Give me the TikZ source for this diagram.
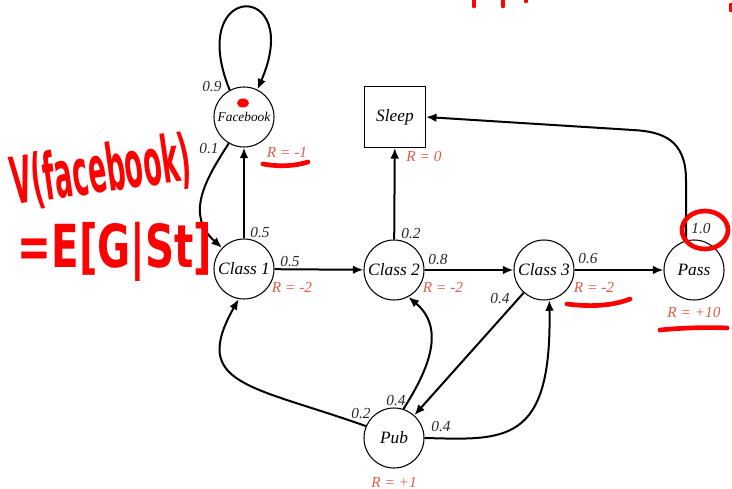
\documentclass[tikz,border=0pt]{standalone}
\usepackage{amsmath,amssymb}
\usepackage{fontspec}
\setmainfont{Liberation Serif}
\newfontfamily\handfont{DejaVu Sans}
\usetikzlibrary{arrows.meta}

\definecolor{rewardred}{RGB}{222,92,72}
\definecolor{penred}{RGB}{255,0,0}

\tikzset{
  mrpstate/.style={circle, draw, line width=0.8pt, minimum size=45pt, inner sep=0pt,
    font=\fontsize{13}{15}\selectfont\itshape},
  endstate/.style={rectangle, draw, line width=0.8pt, minimum size=45.5pt, inner sep=0pt,
    font=\fontsize{13}{15}\selectfont\itshape},
  flow/.style={line width=1.5pt, -{Latex[length=8pt,width=6.5pt]}},
  prob/.style={inner sep=0pt, text=black!85, font=\fontsize{11.5}{13}\selectfont\itshape},
  rew/.style={inner sep=0pt, text=rewardred, font=\fontsize{11.5}{13}\selectfont\itshape},
  pen/.style={draw=penred, line width=3.5pt, line cap=round, line join=round},
  penink/.style={inner sep=0pt, text=penred, font=\handfont\bfseries}
}

\begin{document}
\begin{tikzpicture}[x=0.75pt,y=0.75pt,yscale=-1,xscale=1]
\useasboundingbox (0,0) rectangle (732,489);

% Text Node
\node[mrpstate, font=\fontsize{10}{12}\selectfont\itshape] (fb) at (244,117) {Facebook};
\node[mrpstate] (c1) at (244,269) {Class 1};
\node[mrpstate] (c2) at (394,270) {Class 2};
\node[mrpstate] (c3) at (544,270) {Class 3};
\node[mrpstate] (pass) at (694,270) {Pass};
\node[mrpstate] (pub) at (394,438) {Pub};
\node[endstate] (sleep) at (395,117) {Sleep};

%Straight Lines
\draw[flow] (c1) -- (fb);
\draw[flow] (c1) -- (c2);
\draw[flow] (c2) -- (c3);
\draw[flow] (c3) -- (pass);
\draw[flow] (c2) -- (sleep);
\draw[flow] (c3) -- (pub);

%Curve Lines
\draw[flow] (fb.118) .. controls (185,-20) and (305,-20) .. (fb.64);
\draw[flow] (fb.240) .. controls (205,180) and (185,215) .. (c1.136);
\draw[flow] (pass.105) -- (686,180) .. controls (686,140) and (663,131.6) .. (633,130) -- (sleep.east);
\draw[flow] (pub.157) .. controls (250,385) and (190,385) .. (c1.260);
\draw[flow] (pub.72) .. controls (425,375) and (448,330) .. (c2.-62);
\draw[flow] (pub.0) .. controls (505,440) and (552,445) .. (c3.-80);

% Text Node
\node[prob] (p-fb-fb) at (212,87) {0.9};
\node[prob] (p-fb-c1) at (209,149) {0.1};
\node[prob] (p-c1-fb) at (260,233) {0.5};
\node[prob] (p-c1-c2) at (290,262) {0.5};
\node[prob] (p-c2-sl) at (411,234) {0.2};
\node[prob] (p-c2-c3) at (438,260) {0.8};
\node[prob] (p-c3-pb) at (500,299) {0.4};
\node[prob] (p-c3-ps) at (588,259) {0.6};
\node[prob] (p-ps-sl) at (701,229) {1.0};
\node[prob] (p-pb-c1) at (361,414) {0.2};
\node[prob] (p-pb-c2) at (396,401) {0.4};
\node[prob] (p-pb-c3) at (441,427) {0.4};

% Text Node
\node[rew] (r-fb) at (287,152) {R = -1};
\node[rew] (r-c1) at (292,287) {R = -2};
\node[rew] (r-c2) at (443,287) {R = -2};
\node[rew] (r-c3) at (594,287) {R = -2};
\node[rew] (r-ps) at (694,312) {R = +10};
\node[rew] (r-sl) at (424,156) {R = 0};
\node[rew] (r-pb) at (394,482) {R = +1};

%Pen marks
\node[penink, rotate=8] (vfb) at (101,172) {\resizebox{136pt}{37pt}{V(facebook)}};
\node[penink] (efb) at (115,252) {\resizebox{146pt}{34pt}{=E[G|St]}};
\fill[penred] (243,103) ellipse [x radius=6, y radius=4.5];
\draw[pen] (263,164) .. controls (280,167) and (295,166) .. (308,162);
\draw[pen] (567,304) .. controls (590,307) and (612,306) .. (630,299);
\draw[pen] (660,330) .. controls (680,328) and (705,327) .. (727,328);
\draw[pen] (705,230) ellipse [x radius=23, y radius=19];
\draw[pen] (474,-2) -- (474,6);
\draw[pen] (503,-2) -- (503,6);
\draw[pen] (526,-2) -- (526,1);
\draw[pen] (731,5) -- (731,10);

\end{tikzpicture}
\end{document}
